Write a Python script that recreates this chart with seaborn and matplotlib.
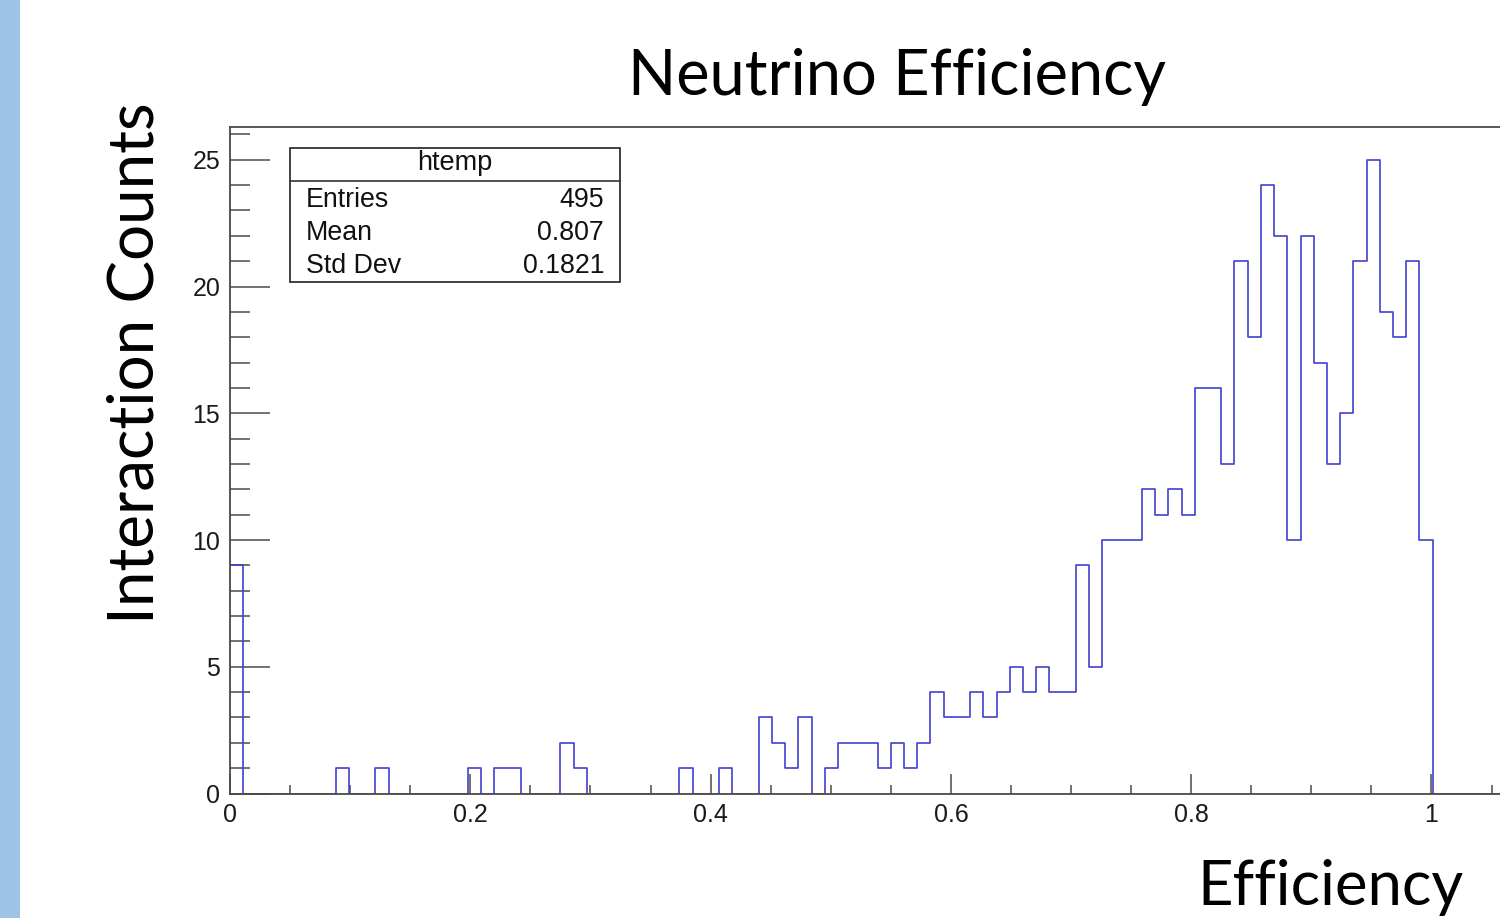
import numpy as np
import pandas as pd
import matplotlib
matplotlib.use("Agg")
import matplotlib.pyplot as plt
import seaborn as sns
from matplotlib.patches import Rectangle
from matplotlib.lines import Line2D
from matplotlib.ticker import FixedLocator, MultipleLocator

# ---------------- data ----------------
bin_counts = [9, 0, 0, 0, 0, 0, 0, 0, 1, 0,
              0, 1, 0, 0, 0, 0, 0, 0, 1, 0,
              1, 1, 0, 0, 0, 2, 1, 0, 0, 0,
              0, 0, 0, 0, 1, 0, 0, 1, 0, 0,
              3, 2, 1, 3, 0, 1, 2, 2, 2, 1,
              2, 1, 2, 4, 3, 3, 4, 3, 4, 5,
              4, 5, 4, 4, 9, 5, 10, 10, 10, 12,
              11, 12, 11, 16, 16, 13, 21, 18, 24, 22,
              10, 22, 17, 13, 15, 21, 25, 19, 18, 21,
              10, 0, 0, 0, 0, 0, 0, 0, 0, 0]
hist_range = (0.0, 1.1)
n_bins = 100

x_ticks = [0.0, 0.2, 0.4, 0.6, 0.8, 1.0]
x_tick_labels = ["0", "0.2", "0.4", "0.6", "0.8", "1"]
y_ticks = [0, 5, 10, 15, 20, 25]
y_tick_labels = ["0", "5", "10", "15", "20", "25"]

title = "Neutrino Efficiency"
x_label = "Efficiency"
y_label = "Interaction Counts"
stats_name = "htemp"
stats_rows = [("Entries", "495"), ("Mean", "0.807"), ("Std Dev", "0.1821")]

# ---------------- figure ----------------
sns.set_style("white")
plt.rcParams['font.family'] = ['Liberation Sans', 'DejaVu Sans']

W, H = 1500, 918
fig = plt.figure(figsize=(W / 100, H / 100), dpi=100)
fig.patch.set_facecolor("white")


def fx(px):
    return px / W


def fy(py):
    return 1 - py / H


# left blue strip
fig.add_artist(Rectangle((0, 0), fx(20), 1, transform=fig.transFigure,
                         facecolor="#9DC3E6", edgecolor="none", zorder=0))

x0_px, y0_px, px_per_x, px_per_y = 230, 793.5, 1201.5, 25.35
ymax = (y0_px - 127) / px_per_y
ax = fig.add_axes([fx(x0_px), fy(y0_px),
                   (hist_range[1] - hist_range[0]) * px_per_x / W,
                   (y0_px - 127) / H])

bin_w = (hist_range[1] - hist_range[0]) / n_bins
centers = [hist_range[0] + (i + 0.5) * bin_w for i in range(n_bins)]
df = pd.DataFrame({"eff": centers, "count": bin_counts})

sns.histplot(data=df, x="eff", weights="count", bins=n_bins,
             binrange=hist_range, element="step", fill=False,
             color="#4040D0", linewidth=1.2, ax=ax)

ax.set_xlim(*hist_range)
ax.set_ylim(0, ymax)
ax.set_xlabel("")
ax.set_ylabel("")

axis_col = "#4a4a4a"
for s in ax.spines.values():
    s.set_color(axis_col)
    s.set_linewidth(1.3)
    s.set_zorder(3)

ax.xaxis.set_major_locator(FixedLocator(x_ticks))
ax.set_xticklabels(x_tick_labels)
ax.xaxis.set_minor_locator(MultipleLocator(0.05))
ax.yaxis.set_major_locator(FixedLocator(y_ticks))
ax.set_yticklabels(y_tick_labels)
ax.yaxis.set_minor_locator(MultipleLocator(1))

ax.tick_params(axis="both", which="both", direction="in", color=axis_col,
               width=1.1, top=False, right=False, bottom=True, left=True,
               labelsize=18, labelcolor="#1a1a1a")
ax.tick_params(axis="x", which="major", length=14.4, pad=6.5)
ax.tick_params(axis="x", which="minor", length=6.5)
ax.tick_params(axis="y", which="major", length=28.8, pad=7)
ax.tick_params(axis="y", which="minor", length=14.4)

# ---------------- stats box ----------------
bx0, by0, bx1, by1 = 290, 148, 620, 282
fig.add_artist(Rectangle((fx(bx0), fy(by1)), fx(bx1) - fx(bx0), fy(by0) - fy(by1),
                         transform=fig.transFigure, facecolor="white",
                         edgecolor="#333333", linewidth=1.3, zorder=5))
fig.add_artist(Line2D([fx(bx0), fx(bx1)], [fy(181), fy(181)],
                      transform=fig.transFigure, color="#333333",
                      linewidth=1.2, zorder=6))
fig.text(fx((bx0 + bx1) / 2), fy(163), stats_name, ha="center", va="center",
         fontsize=19.5, color="#111111", zorder=7)
row_y = [200, 233, 266]
for (lab, val), ry in zip(stats_rows, row_y):
    fig.text(fx(306), fy(ry), lab, ha="left", va="center", fontsize=19.3,
             color="#111111", zorder=7)
    fig.text(fx(604), fy(ry), val, ha="right", va="center", fontsize=19.3,
             color="#111111", zorder=7)

# ---------------- titles ----------------
fig.text(fx(897), fy(95), title, ha="center", va="baseline",
         fontsize=45.5, family=["Lato", "DejaVu Sans"], color="black")
fig.text(fx(1197), fy(905), x_label, ha="left", va="baseline",
         fontsize=44.4, family=["Lato", "DejaVu Sans"], color="black")
fig.text(fx(136), fy(363.5), y_label, ha="center", va="center", rotation=90,
         fontsize=45.9, family=["Lato", "DejaVu Sans"], color="black")

fig.savefig("out.png", dpi=100, facecolor="white")
